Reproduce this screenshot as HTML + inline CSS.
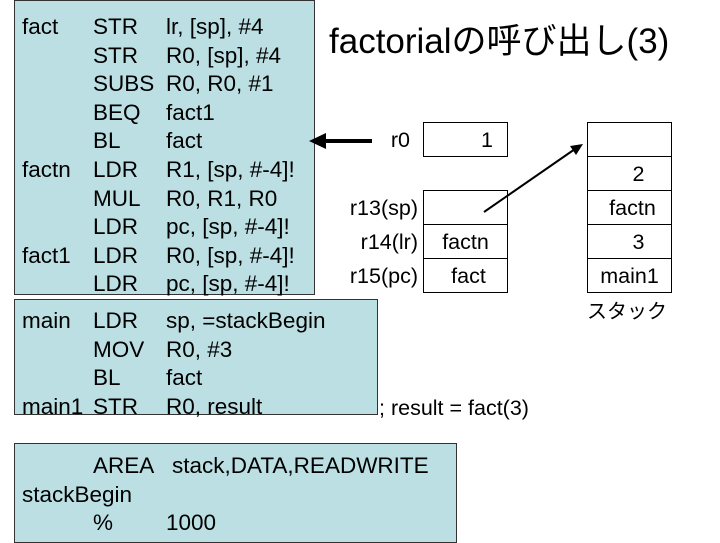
<!DOCTYPE html>
<html><head><meta charset="utf-8"><style>
body{margin:0;width:720px;height:540px;background:#fff;position:relative;overflow:hidden;font-family:"Liberation Sans","Noto Sans CJK JP",sans-serif;color:#000}
.box{position:absolute;background:#bbdfe3;border:1px solid #333;box-sizing:border-box}
.t{position:absolute;font-size:22.5px;line-height:28.6px;white-space:pre}
.c{position:absolute;border:1px solid #000;box-sizing:border-box;background:#fff}
.r{position:absolute;font-size:21.5px;line-height:34px;white-space:pre}
</style></head><body>
<div class="box" style="left:14px;top:0;width:301px;height:295px"></div>
<div class="box" style="left:14px;top:299px;width:364px;height:116px"></div>
<div class="box" style="left:14px;top:443px;width:443px;height:100px"></div>
<div class="t" style="left:22px;top:13px">fact<br><br><br><br><br>factn<br><br><br>fact1</div>
<div class="t" style="left:93px;top:13px">STR<br>STR<br>SUBS<br>BEQ<br>BL<br>LDR<br>MUL<br>LDR<br>LDR<br>LDR</div>
<div class="t" style="left:166px;top:13px">lr, [sp], #4<br>R0, [sp], #4<br>R0, R0, #1<br>fact1<br>fact<br>R1, [sp, #-4]!<br>R0, R1, R0<br>pc, [sp, #-4]!<br>R0, [sp, #-4]!<br>pc, [sp, #-4]!</div>
<div class="t" style="left:22px;top:307px">main<br><br><br>main1</div>
<div class="t" style="left:93px;top:307px">LDR<br>MOV<br>BL<br>STR</div>
<div class="t" style="left:166px;top:307px">sp, =stackBegin<br>R0, #3<br>fact<br>R0, result</div>
<div class="t" style="left:93px;top:452px">AREA</div>
<div class="t" style="left:172px;top:452px">stack,DATA,READWRITE</div>
<div class="t" style="left:22px;top:481px">stackBegin</div>
<div class="t" style="left:93px;top:509px">%</div>
<div class="t" style="left:166px;top:509px">1000</div>
<div style="position:absolute;left:329px;top:20px;font-size:35px;line-height:44px;white-space:pre">factorialの呼び出し(3)</div>
<div class="r" style="left:379px;top:391px">; result = fact(3)</div>
<div class="c" style="left:423px;top:122px;width:85px;height:35px"></div>
<div class="r" style="left:423px;top:123px;width:70px;text-align:right">1</div>
<div class="r" style="left:370px;top:123px;width:40px;text-align:right">r0</div>
<div class="c" style="left:423px;top:190px;width:85px;height:35px"></div>
<div class="c" style="left:423px;top:224px;width:85px;height:35px"></div>
<div class="c" style="left:423px;top:258px;width:85px;height:35px"></div>
<div class="r" style="left:300px;top:191px;width:118px;text-align:right">r13(sp)<br>r14(lr)<br>r15(pc)</div>
<div class="r" style="left:423px;top:225px;width:85px;text-align:center">factn<br> fact</div>
<div class="c" style="left:587px;top:122px;width:85px;height:35px"></div>
<div class="c" style="left:587px;top:156px;width:85px;height:35px"></div>
<div class="c" style="left:587px;top:190px;width:85px;height:35px"></div>
<div class="c" style="left:587px;top:224px;width:85px;height:35px"></div>
<div class="c" style="left:587px;top:258px;width:85px;height:35px"></div>
<div class="r" style="left:587px;top:157px;width:85px;text-align:center">   2<br> factn<br>   3<br>main1</div>
<div class="r" style="left:587px;top:295px;font-size:20px">スタック</div>
<svg style="position:absolute;left:0;top:0" width="720" height="540">
<line x1="372" y1="141" x2="322" y2="141" stroke="#000" stroke-width="4"/>
<polygon points="309,141 326,133 326,149" fill="#000"/>
<line x1="484" y1="212" x2="575" y2="149" stroke="#000" stroke-width="2"/>
<polygon points="583,144 570,146 576,155" fill="#000"/>
</svg>
</body></html>
